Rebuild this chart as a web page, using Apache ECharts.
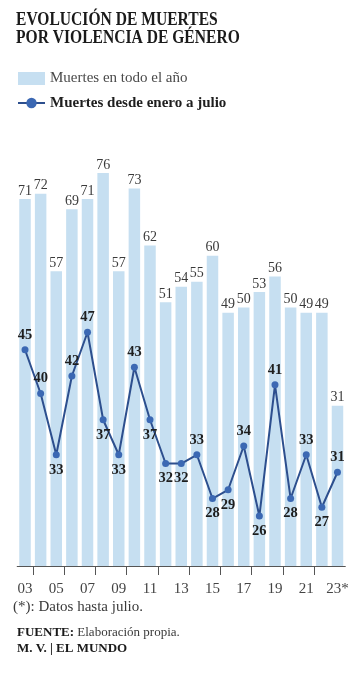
<!DOCTYPE html>
<html>
<head>
<meta charset="utf-8">
<script src="https://cdn.jsdelivr.net/npm/echarts@6/dist/echarts.min.js"></script>
<style>
html,body{margin:0;padding:0;background:#fff;}
#c{width:360px;height:686px;}
</style>
</head>
<body>
<div id="c"></div>
<script>
// ---- data ----
const years = ['03','04','05','06','07','08','09','10','11','12','13','14','15','16','17','18','19','20','21','22','23*'];
const totalYear = [71,72,57,69,71,76,57,73,62,51,54,55,60,49,50,53,56,50,49,49,31];
const janToJuly = [45,40,33,42,47,37,33,43,37,32,32,33,28,29,34,26,41,28,33,27,31];
const seriesNames = ['Muertes en todo el año', 'Muertes desde enero a julio'];
const titleLines = ['EVOLUCIÓN DE MUERTES', 'POR VIOLENCIA DE GÉNERO'];
const noteText = '(*): Datos hasta julio.';
const sourceLabel = 'FUENTE:';
const sourceText = ' Elaboración propia.';
const creditText = 'M. V. | EL MUNDO';

// ---- chart ----
const SERIF = '"Liberation Serif", "DejaVu Serif", serif';
const chart = echarts.init(document.getElementById('c'), null, {renderer: 'canvas'});

// label above for local highs, below for local lows
const lineData = janToJuly.map((v, i) => {
  const prev = i > 0 ? janToJuly[i - 1] : null;
  const next = i < janToJuly.length - 1 ? janToJuly[i + 1] : null;
  const nb = [prev, next].filter(x => x !== null);
  const avg = nb.reduce((a, b) => a + b, 0) / nb.length;
  return {value: v, label: {position: v >= avg ? 'top' : 'bottom'}};
});

const option = {
  animation: false,
  backgroundColor: '#ffffff',
  grid: [
    {left: 17.2, right: 14.7, top: 140, bottom: 120},
    {left: 32.8, right: 30.3, top: 140, bottom: 120}
  ],
  legend: {
    orient: 'vertical',
    left: 17,
    top: 71,
    padding: 0,
    itemWidth: 27,
    itemHeight: 13,
    itemGap: 9.5,
    selectedMode: false,
    textStyle: {fontFamily: SERIF, fontSize: 15, lineHeight: 15, color: '#444'},
    data: [
      {name: seriesNames[0], icon: 'rect', textStyle: {fontWeight: 'normal', color: '#4a4a4a'}},
      {name: seriesNames[1], textStyle: {fontWeight: 'bold', color: '#1e1e1e'}}
    ]
  },
  xAxis: [
    {
      type: 'category', gridIndex: 0, data: years, boundaryGap: true,
      axisLine: {show: true, lineStyle: {color: '#555', width: 1}},
      axisTick: {show: false},
      axisLabel: {interval: 1, margin: 16, color: '#444', fontFamily: SERIF, fontSize: 15}
    },
    {
      type: 'category', gridIndex: 1, data: years.slice(1), boundaryGap: false,
      axisLine: {show: false},
      axisTick: {show: true, length: 9, lineStyle: {color: '#555', width: 1}},
      axisLabel: {show: false}
    }
  ],
  yAxis: [
    {type: 'value', gridIndex: 0, min: 0, max: 82.4, show: false},
    {type: 'value', gridIndex: 0, min: 20.29, max: 68.97, show: false},
    {type: 'value', gridIndex: 1, min: 0, max: 1, show: false}
  ],
  series: [
    {
      name: seriesNames[0], type: 'bar', xAxisIndex: 0, yAxisIndex: 0,
      data: totalYear, barWidth: 11.5,
      itemStyle: {color: '#c6dff1'},
      label: {show: true, position: 'top', distance: 1, color: '#3a3a3a',
        fontFamily: SERIF, fontSize: 14}
    },
    {
      name: seriesNames[1], type: 'line', xAxisIndex: 0, yAxisIndex: 1,
      data: lineData, symbol: 'circle', symbolSize: 7,
      lineStyle: {color: '#2d4f8e', width: 2},
      itemStyle: {color: '#3b68b3'},
      z: 5,
      label: {show: true, distance: 4, color: '#1e1e1e', fontFamily: SERIF,
        fontSize: 14.5, fontWeight: 'bold'}
    }
  ],
  graphic: [
    {type: 'text', x: 16, y: 20.3, scaleX: 0.82, style: {text: titleLines[0], font: 'bold 19px ' + SERIF, fill: '#1a1a1a', verticalAlign: 'middle'}},
    {type: 'text', x: 16, y: 38.4, scaleX: 0.82, style: {text: titleLines[1], font: 'bold 19px ' + SERIF, fill: '#1a1a1a', verticalAlign: 'middle'}},
    {type: 'text', x: 13, y: 607, style: {text: noteText, font: '15px ' + SERIF, fill: '#3a3a3a', verticalAlign: 'middle'}},
    {type: 'text', x: 17, y: 633, style: {
      text: '{b|' + sourceLabel + '}{n|' + sourceText + '}', verticalAlign: 'middle',
      rich: {
        b: {fontFamily: SERIF, fontSize: 13, fontWeight: 'bold', fill: '#1a1a1a', color: '#1a1a1a'},
        n: {fontFamily: SERIF, fontSize: 13, fill: '#3a3a3a', color: '#3a3a3a'}
      }}},
    {type: 'text', x: 17, y: 649, style: {text: creditText, font: 'bold 13px ' + SERIF, fill: '#1a1a1a', verticalAlign: 'middle'}}
  ]
};
chart.setOption(option);
</script>
</body>
</html>
